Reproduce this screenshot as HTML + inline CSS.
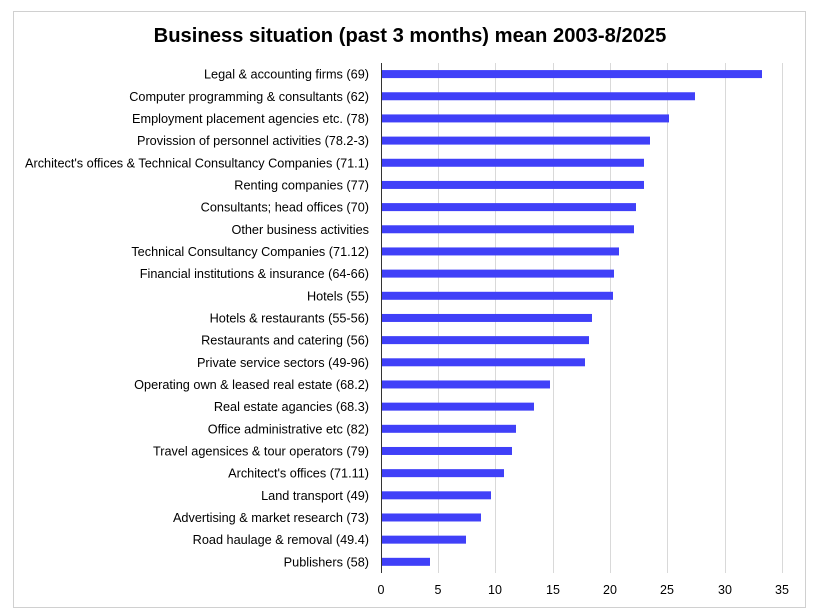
<!DOCTYPE html>
<html><head><meta charset="utf-8"><style>
body{margin:0;background:#fff;}
svg{display:block;font-family:"Liberation Sans",sans-serif;}
</style></head><body>
<svg width="820" height="616" viewBox="0 0 820 616">
<rect x="13.5" y="11.5" width="792" height="596" fill="#fff" stroke="#d0d0d0"/>
<text x="410" y="42" text-anchor="middle" font-size="20.2" font-weight="bold" fill="#000">Business situation (past 3 months) mean 2003-8/2025</text>
<g stroke="#d9d9d9" stroke-width="1">
<line x1="438.5" y1="63" x2="438.5" y2="573"/>
<line x1="495.5" y1="63" x2="495.5" y2="573"/>
<line x1="553.5" y1="63" x2="553.5" y2="573"/>
<line x1="610.5" y1="63" x2="610.5" y2="573"/>
<line x1="667.5" y1="63" x2="667.5" y2="573"/>
<line x1="725.5" y1="63" x2="725.5" y2="573"/>
<line x1="782.5" y1="63" x2="782.5" y2="573"/>
</g>
<g font-size="12.5" fill="#000" text-anchor="middle">
<text x="381" y="594">0</text><text x="438" y="594">5</text><text x="495" y="594">10</text><text x="553" y="594">15</text><text x="610" y="594">20</text><text x="667" y="594">25</text><text x="725" y="594">30</text><text x="782" y="594">35</text>
</g>
<g id="bars" fill="#4040f8"></g>
<g id="labels" font-size="12.7" fill="#000" text-anchor="end"></g>
<line x1="381.5" y1="63" x2="381.5" y2="573" stroke="#333"/>
<script>
var d=[["Legal & accounting firms (69)",762],["Computer programming & consultants (62)",695],["Employment placement agencies etc. (78)",669],["Provission of personnel activities (78.2-3)",650],["Architect's offices & Technical Consultancy Companies (71.1)",644],["Renting companies (77)",644],["Consultants; head offices (70)",636],["Other business activities",634],["Technical Consultancy Companies (71.12)",619],["Financial institutions & insurance (64-66)",614],["Hotels (55)",613],["Hotels & restaurants (55-56)",592],["Restaurants and catering (56)",589],["Private service sectors (49-96)",585],["Operating own & leased real estate (68.2)",550],["Real estate agancies (68.3)",534],["Office administrative etc (82)",516],["Travel agensices & tour operators (79)",512],["Architect's offices (71.11)",504],["Land transport (49)",491],["Advertising & market research (73)",481],["Road haulage & removal (49.4)",466],["Publishers (58)",430]];
var b=document.getElementById('bars'),l=document.getElementById('labels'),ns="http://www.w3.org/2000/svg";
d.forEach(function(r,i){var c=63+22.17*(i+0.5);
var e=document.createElementNS(ns,'rect');e.setAttribute('x',382);e.setAttribute('y',c-4);e.setAttribute('width',r[1]-382);e.setAttribute('height',8);b.appendChild(e);
var t=document.createElementNS(ns,'text');t.setAttribute('x',369);t.setAttribute('y',c+4.5);t.textContent=r[0];l.appendChild(t);});
</script>
</svg>
</body></html>
